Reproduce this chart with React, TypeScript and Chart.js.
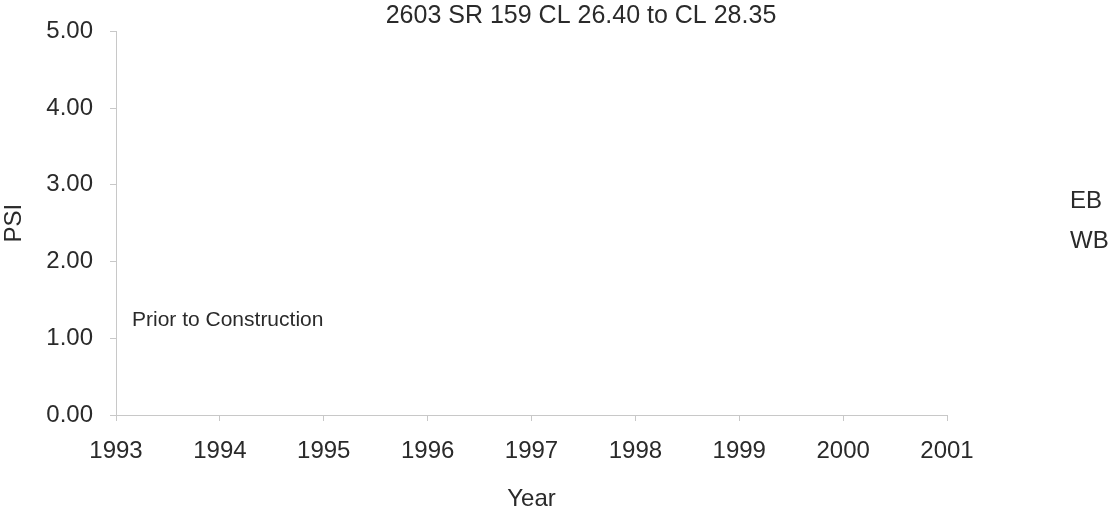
import React, { useEffect, useRef } from "react";
import { Chart, registerables } from "chart.js";

Chart.register(...registerables);

const TITLE = "2603 SR 159 CL 26.40 to CL 28.35";
const SERIES_LABELS = ["EB", "WB"];
const EB_POINTS: { x: number; y: number }[] = [];
const WB_POINTS: { x: number; y: number }[] = [];
const YEAR_MIN = 1993;
const YEAR_MAX = 2001;
const PSI_MIN = 0;
const PSI_MAX = 5;
const NOTE_TEXT = "Prior to Construction";
const NOTE_YEAR = 1993;
const NOTE_PSI = 1.23;

const FONT = "'Liberation Sans', Arial, sans-serif";
const TEXT = "#2a2a2a";

const overlayPlugin = {
  id: "overlay",
  afterDraw(chart: any) {
    const ctx = chart.ctx;
    const xs = chart.scales.x;
    const ys = chart.scales.y;
    ctx.save();
    ctx.fillStyle = TEXT;
    ctx.textBaseline = "middle";
    // title
    ctx.font = `25px ${FONT}`;
    ctx.textAlign = "center";
    ctx.fillText(TITLE, 581, 16);
    // annotation
    ctx.font = `21px ${FONT}`;
    ctx.textAlign = "left";
    ctx.fillText(NOTE_TEXT, xs.getPixelForValue(NOTE_YEAR) + 16, ys.getPixelForValue(NOTE_PSI));
    // legend text
    ctx.font = `24px ${FONT}`;
    const lx = 1070;
    const ly0 = 201;
    chart.data.datasets.forEach((ds: any, i: number) => {
      ctx.fillText(ds.label, lx, ly0 + i * 40);
    });
    ctx.restore();
  },
};

export default function App() {
  const ref = useRef<HTMLCanvasElement | null>(null);
  useEffect(() => {
    if (!ref.current) return;
    const chart = new Chart(ref.current, {
      type: "line",
      data: {
        datasets: [
          { label: SERIES_LABELS[0], data: EB_POINTS, borderColor: "#333", pointRadius: 4 },
          { label: SERIES_LABELS[1], data: WB_POINTS, borderColor: "#777", pointRadius: 4 },
        ],
      },
      options: {
        animation: false,
        responsive: false,
        maintainAspectRatio: false,
        layout: { padding: { left: 0, right: 170, top: 28, bottom: 0 } },
        plugins: {
          legend: { display: false },
          tooltip: { enabled: false },
          title: { display: false },
        },
        scales: {
          x: {
            type: "linear",
            min: YEAR_MIN,
            max: YEAR_MAX,
            afterFit: (s: any) => { s.height = 99; },
            ticks: {
              stepSize: 1,
              color: TEXT,
              font: { family: FONT, size: 24 },
              padding: 16,
              maxRotation: 0,
              callback: (v: any) => String(v),
            },
            grid: { drawOnChartArea: false, color: "#c8c8c8", tickLength: 6 },
            border: { color: "#c8c8c8" },
            title: {
              display: true,
              text: "Year",
              color: TEXT,
              font: { family: FONT, size: 24 },
              padding: { top: 14, bottom: 0 },
            },
          },
          y: {
            min: PSI_MIN,
            max: PSI_MAX,
            afterFit: (s: any) => { s.width = 116; },
            ticks: {
              stepSize: 1,
              color: TEXT,
              font: { family: FONT, size: 24 },
              padding: 17,
              callback: (v: any) => Number(v).toFixed(2),
            },
            grid: { drawOnChartArea: false, color: "#c8c8c8", tickLength: 6 },
            border: { color: "#c8c8c8" },
            title: {
              display: true,
              text: "PSI",
              color: TEXT,
              font: { family: FONT, size: 24 },
              padding: { top: 0, bottom: 0 },
            },
          },
        },
      },
      plugins: [overlayPlugin],
    });
    return () => chart.destroy();
  }, []);
  return (
    <div style={{ position: "fixed", left: 0, top: 0, width: 1117, height: 514, background: "#fff" }}>
      <canvas ref={ref} width={1117} height={514} style={{ width: 1117, height: 514 }} />
    </div>
  );
}
